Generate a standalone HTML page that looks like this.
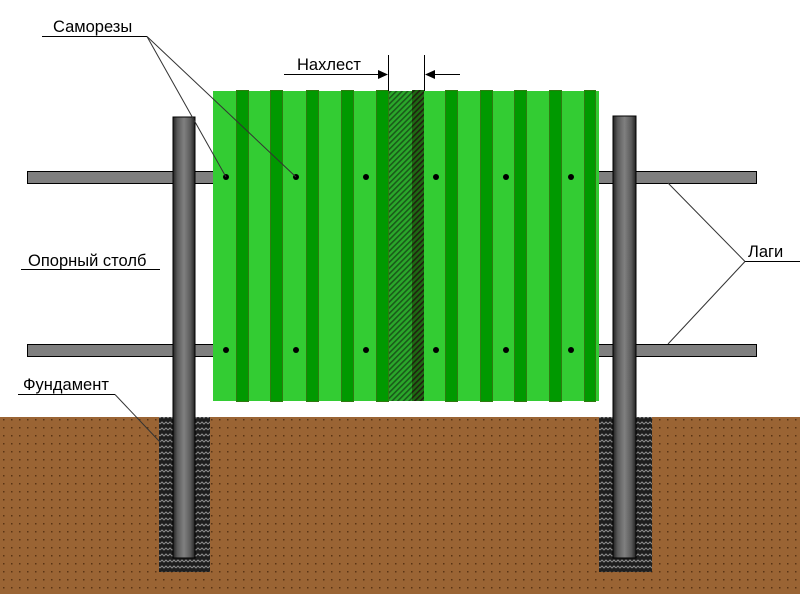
<!DOCTYPE html>
<html><head><meta charset="utf-8"><style>
html,body{margin:0;padding:0;background:#fff;width:800px;height:594px;overflow:hidden}
text{font-family:"Liberation Sans","DejaVu Sans",sans-serif;font-size:16.5px;fill:#000}
</style></head><body>
<svg width="800" height="594" viewBox="0 0 800 594" xmlns="http://www.w3.org/2000/svg">
<defs>
<pattern id="dots" width="8" height="8" patternUnits="userSpaceOnUse">
<rect width="8" height="8" fill="#9a6434"/><rect x="3" y="3" width="1.5" height="1.5" fill="#5a3414"/>
</pattern>
<pattern id="zig" width="8" height="6" patternUnits="userSpaceOnUse">
<rect width="8" height="6" fill="#1e1e1e"/><path d="M0 4 L2 2 L4 4 L6 2 L8 4" stroke="#8a8a8a" stroke-width="1" fill="none"/>
</pattern>
<pattern id="hatch" width="4" height="4" patternUnits="userSpaceOnUse" patternTransform="rotate(45)">
<rect width="4" height="4" fill="#2aa82a"/><rect width="1.6" height="4" fill="#1a5a1a"/>
</pattern>
<pattern id="hatch2" width="4" height="4" patternUnits="userSpaceOnUse" patternTransform="rotate(45)">
<rect width="4" height="4" fill="#1d6a12"/><rect width="1.6" height="4" fill="#202010"/>
</pattern>
<linearGradient id="post" x1="0" x2="1" y1="0" y2="0">
<stop offset="0" stop-color="#222"/><stop offset="0.2" stop-color="#5a5a5a"/><stop offset="0.5" stop-color="#808080"/><stop offset="0.8" stop-color="#5a5a5a"/><stop offset="1" stop-color="#222"/>
</linearGradient>
</defs>
<rect x="0" y="417" width="800" height="177" fill="url(#dots)"/>
<rect x="159" y="417" width="51" height="155" fill="url(#zig)"/>
<rect x="599" y="417" width="53" height="155" fill="url(#zig)"/>
<rect x="27.5" y="171.5" width="729" height="12" fill="#7f7f7f" stroke="#000"/>
<rect x="27.5" y="344.5" width="729" height="12" fill="#7f7f7f" stroke="#000"/>
<rect x="213" y="91" width="386" height="310" fill="#33cc33"/>
<g fill="#009900" stroke="#2f7a10" stroke-width="1">
<rect x="236.5" y="90.5" width="12" height="311"/>
<rect x="270.5" y="90.5" width="12" height="311"/>
<rect x="306.5" y="90.5" width="12" height="311"/>
<rect x="341.5" y="90.5" width="12" height="311"/>
<rect x="376.5" y="90.5" width="12" height="311"/>
<rect x="445.5" y="90.5" width="12" height="311"/>
<rect x="480.5" y="90.5" width="12" height="311"/>
<rect x="514.5" y="90.5" width="12" height="311"/>
<rect x="549.5" y="90.5" width="12" height="311"/>
<rect x="584.5" y="90.5" width="11" height="311"/>
</g>
<rect x="389" y="91" width="23" height="310" fill="url(#hatch)"/>
<rect x="412" y="90" width="12" height="311" fill="url(#hatch2)"/>
<g fill="#000">
<circle cx="226" cy="177" r="3"/><circle cx="296" cy="177" r="3"/><circle cx="366" cy="177" r="3"/><circle cx="436" cy="177" r="3"/><circle cx="506" cy="177" r="3"/><circle cx="571" cy="177" r="3"/>
<circle cx="226" cy="350" r="3"/><circle cx="296" cy="350" r="3"/><circle cx="366" cy="350" r="3"/><circle cx="436" cy="350" r="3"/><circle cx="506" cy="350" r="3"/><circle cx="571" cy="350" r="3"/>
</g>
<rect x="173" y="117" width="22" height="441" fill="url(#post)" stroke="#000"/>
<rect x="613" y="116" width="23" height="442" fill="url(#post)" stroke="#000"/>
<g stroke="#333" stroke-width="1" fill="none">
<line x1="42" y1="36.5" x2="147" y2="36.5" stroke="#000"/>
<line x1="147" y1="36.5" x2="226" y2="177"/>
<line x1="147" y1="36.5" x2="296" y2="177"/>
<line x1="21" y1="269.5" x2="160" y2="269.5" stroke="#000"/>
<line x1="18" y1="394.5" x2="115" y2="394.5" stroke="#000"/>
<line x1="115" y1="394.5" x2="160" y2="442"/>
<line x1="745" y1="261.5" x2="800" y2="261.5" stroke="#000"/>
<line x1="745" y1="261.5" x2="668" y2="183"/>
<line x1="745" y1="261.5" x2="668" y2="344"/>
<line x1="388.5" y1="55" x2="388.5" y2="91" stroke="#000"/>
<line x1="424.5" y1="55" x2="424.5" y2="91" stroke="#000"/>
<line x1="284" y1="74.5" x2="380" y2="74.5" stroke="#000"/>
<line x1="432" y1="74.5" x2="460" y2="74.5" stroke="#000"/>
</g>
<path d="M388 74.5 L378 70 L378 79 Z" fill="#000"/>
<path d="M425 74.5 L435 70 L435 79 Z" fill="#000"/>
<text x="53" y="32">Саморезы</text>
<text x="297" y="70">Нахлест</text>
<text x="28" y="266">Опорный столб</text>
<text x="23" y="390">Фундамент</text>
<text x="748" y="257">Лаги</text>
</svg>
</body></html>
